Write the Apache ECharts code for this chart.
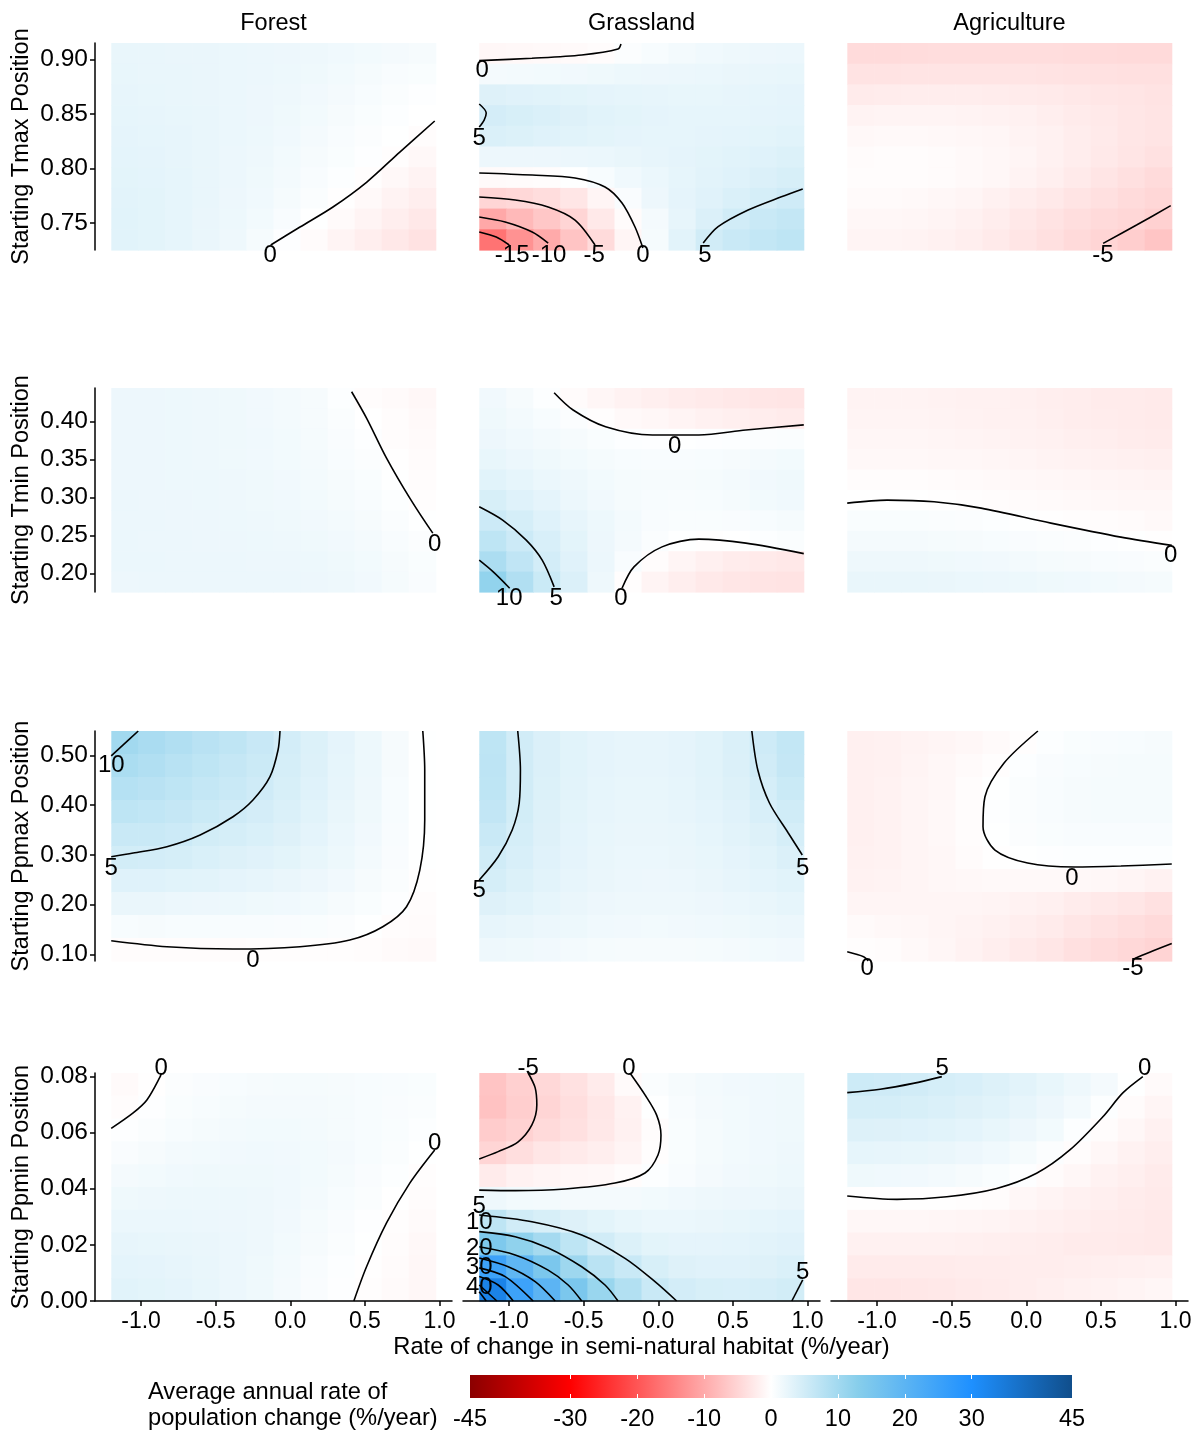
<!DOCTYPE html>
<html><head><meta charset="utf-8">
<script src="https://cdn.jsdelivr.net/npm/echarts@6/dist/echarts.min.js"></script>
<style>html,body{margin:0;padding:0;background:#fff}#c{width:1201px;height:1432px}</style>
</head><body><div id="c"></div>
<script>
// ---------- labels ----------
const facets = ['Forest', 'Grassland', 'Agriculture'];
const rowTitles = ['Starting Tmax Position', 'Starting Tmin Position', 'Starting Ppmax Position', 'Starting Ppmin Position'];
const xTitle = 'Rate of change in semi-natural habitat (%/year)';
const legendTitle = 'Average annual rate of\npopulation change (%/year)';

// ---------- ticks ----------
const xTicks = [-1.0, -0.5, 0.0, 0.5, 1.0];
const yTicksTmax = [0.75, 0.80, 0.85, 0.90];
const yTicksTmin = [0.20, 0.25, 0.30, 0.35, 0.40];
const yTicksPpmax = [0.10, 0.20, 0.30, 0.40, 0.50];
const yTicksPpmin = [0.00, 0.02, 0.04, 0.06, 0.08];
const legendTicks = [-45, -30, -20, -10, 0, 10, 20, 30, 45];

// ---------- raster cell centres ----------
const xCells = [-1.109, -0.928, -0.747, -0.566, -0.384, -0.203, -0.022, 0.159, 0.341, 0.522, 0.703, 0.884];
const yCellsTmax = [0.7345, 0.7535, 0.7725, 0.7915, 0.8105, 0.8295, 0.8485, 0.8675, 0.8865, 0.9055];
const yCellsTmin = [0.1894, 0.2162, 0.2430, 0.2698, 0.2966, 0.3234, 0.3502, 0.3770, 0.4038, 0.4306];
const yCellsPpmax = [0.1101, 0.1563, 0.2025, 0.2487, 0.2949, 0.3411, 0.3873, 0.4335, 0.4797, 0.5259];
const yCellsPpmin = [0.00406, 0.01218, 0.0203, 0.02842, 0.03654, 0.04466, 0.05278, 0.0609, 0.06902, 0.07714];

// ---------- raster values (rows listed top to bottom) ----------
const zForestTmax = [
[2.4,2.4,2.3,2.3,2.2,2.1,2.0,1.8,1.6,1.4,1.2,1.0],
[2.5,2.4,2.4,2.3,2.2,2.1,1.9,1.7,1.4,1.1,0.8,0.6],
[2.6,2.5,2.4,2.3,2.2,2.0,1.8,1.5,1.2,0.9,0.5,0.2],
[2.7,2.6,2.5,2.4,2.2,2.0,1.7,1.4,1.0,0.6,0.3,0.0],
[2.8,2.7,2.6,2.4,2.2,1.9,1.6,1.2,0.8,0.4,0.1,-0.3],
[2.9,2.8,2.6,2.4,2.1,1.8,1.4,1.0,0.6,0.2,-0.2,-0.8],
[3.0,2.9,2.7,2.4,2.1,1.7,1.3,0.8,0.3,-0.2,-0.8,-1.4],
[3.1,3.0,2.7,2.4,2.0,1.6,1.1,0.5,-0.1,-0.7,-1.4,-2.0],
[3.2,3.0,2.7,2.3,1.9,1.4,0.8,0.1,-0.6,-1.3,-2.0,-2.7],
[3.3,3.0,2.7,2.3,1.8,1.1,0.2,-0.5,-1.3,-2.0,-2.7,-3.4]];
const zGrassTmax = [
[-0.9,-0.8,-0.7,-0.6,-0.3,0.4,0.9,1.3,1.6,1.8,2.0,2.1],
[1.2,1.3,1.4,1.5,1.7,1.9,2.0,2.1,2.2,2.3,2.4,2.5],
[3.6,3.4,3.2,3.0,2.8,2.7,2.6,2.5,2.5,2.6,2.7,2.8],
[4.7,4.3,4.0,3.6,3.3,3.0,2.8,2.7,2.7,2.7,2.8,2.9],
[4.0,3.8,3.5,3.2,3.0,2.8,2.7,2.7,2.8,2.9,3.0,3.2],
[2.0,2.0,2.0,2.1,2.2,2.4,2.6,2.8,3.0,3.2,3.5,3.8],
[-0.6,-0.5,-0.3,0.1,0.9,1.6,2.2,2.7,3.1,3.5,3.9,4.3],
[-5.0,-4.6,-4.0,-3.0,-1.2,0.7,2.0,2.8,3.4,4.0,4.6,5.2],
[-10.2,-8.2,-6.6,-5.0,-2.6,-0.5,1.2,2.6,3.9,5.0,5.8,6.4],
[-16.5,-12.8,-10.0,-7.0,-4.2,-1.2,1.1,3.1,5.0,5.8,6.5,7.0]];
const zAgriTmax = [
[-4.2,-4.2,-4.1,-4.0,-4.0,-4.0,-4.0,-4.0,-4.1,-4.2,-4.3,-4.4],
[-3.3,-3.3,-3.2,-3.2,-3.2,-3.2,-3.2,-3.3,-3.4,-3.5,-3.6,-3.7],
[-2.3,-2.2,-2.1,-2.1,-2.1,-2.2,-2.3,-2.5,-2.7,-2.9,-3.1,-3.3],
[-1.4,-1.3,-1.3,-1.3,-1.4,-1.5,-1.7,-2.0,-2.3,-2.6,-2.9,-3.2],
[-0.8,-0.7,-0.7,-0.8,-0.9,-1.1,-1.4,-1.7,-2.1,-2.5,-2.9,-3.2],
[-0.5,-0.4,-0.4,-0.5,-0.7,-0.9,-1.2,-1.6,-2.1,-2.6,-3.1,-3.5],
[-0.4,-0.3,-0.4,-0.5,-0.7,-1.0,-1.4,-1.9,-2.5,-3.1,-3.7,-4.2],
[-0.6,-0.6,-0.7,-0.9,-1.2,-1.6,-2.1,-2.6,-3.2,-3.7,-4.2,-4.7],
[-1.0,-1.0,-1.1,-1.3,-1.6,-2.1,-2.7,-3.3,-3.9,-4.3,-4.7,-5.4],
[-1.3,-1.3,-1.4,-1.6,-2.0,-2.5,-3.1,-3.7,-4.3,-4.9,-5.8,-6.8]];
const zForestTmin = [
[2.0,2.0,1.9,1.8,1.7,1.5,1.3,1.0,0.3,-0.3,-0.6,-0.9],
[2.0,2.0,1.9,1.8,1.7,1.5,1.3,1.0,0.5,0.0,-0.4,-0.7],
[2.0,2.0,1.9,1.8,1.7,1.6,1.4,1.1,0.7,0.2,-0.3,-0.6],
[2.0,2.0,1.9,1.8,1.7,1.6,1.4,1.2,0.8,0.4,-0.1,-0.5],
[2.0,2.0,1.9,1.9,1.8,1.7,1.5,1.3,1.0,0.6,0.1,-0.3],
[2.1,2.0,2.0,1.9,1.8,1.7,1.6,1.4,1.1,0.8,0.3,-0.2],
[2.1,2.1,2.0,2.0,1.9,1.8,1.7,1.5,1.3,1.0,0.5,0.1],
[2.2,2.1,2.1,2.0,2.0,1.9,1.8,1.7,1.5,1.2,0.8,0.4],
[2.2,2.2,2.1,2.1,2.1,2.0,2.0,1.9,1.7,1.4,1.0,0.6],
[2.0,2.1,2.1,2.1,2.1,2.1,2.1,2.0,1.8,1.5,1.1,0.7]];
const zGrassTmin = [
[1.5,1.0,0.3,-0.5,-1.1,-1.5,-1.9,-2.2,-2.5,-2.7,-2.9,-3.1],
[1.7,1.3,0.9,0.4,-0.2,-0.7,-1.0,-1.3,-1.6,-1.9,-2.1,-2.3],
[2.0,1.6,1.3,1.0,0.6,0.3,0.2,0.1,0.2,0.3,0.4,0.5],
[2.5,2.1,1.7,1.4,1.1,0.9,0.8,0.8,0.9,1.0,1.2,1.4],
[3.2,2.7,2.2,1.8,1.4,1.1,1.0,1.0,1.1,1.3,1.5,1.7],
[4.3,3.5,2.8,2.1,1.5,1.1,0.9,0.8,0.9,1.1,1.4,1.6],
[5.5,4.5,3.5,2.6,1.9,1.3,0.8,0.6,0.6,0.7,0.9,1.1],
[7.0,5.5,4.2,3.0,2.0,1.2,0.5,0.1,-0.1,0.0,0.3,0.5],
[9.0,6.8,4.8,3.4,2.1,0.8,-0.4,-1.2,-1.8,-2.2,-2.5,-2.7],
[11.8,8.4,5.7,3.9,1.8,-0.2,-1.3,-2.0,-2.6,-3.0,-3.2,-3.3]];
const zAgriTmin = [
[-1.4,-1.4,-1.4,-1.5,-1.6,-1.7,-1.8,-2.0,-2.1,-2.3,-2.4,-2.5],
[-1.3,-1.3,-1.3,-1.4,-1.5,-1.6,-1.7,-1.9,-2.1,-2.2,-2.4,-2.5],
[-1.1,-1.1,-1.1,-1.2,-1.3,-1.4,-1.5,-1.7,-1.9,-2.0,-2.2,-2.3],
[-0.8,-0.8,-0.8,-0.9,-1.0,-1.1,-1.2,-1.4,-1.5,-1.7,-1.8,-1.9],
[-0.4,-0.4,-0.4,-0.5,-0.6,-0.7,-0.8,-1.0,-1.1,-1.2,-1.3,-1.4],
[0.0,0.0,0.0,-0.1,-0.2,-0.3,-0.5,-0.6,-0.7,-0.8,-0.9,-1.0],
[0.6,0.6,0.6,0.5,0.4,0.3,0.1,-0.1,-0.2,-0.4,-0.5,-0.7],
[1.2,1.2,1.2,1.1,1.0,0.9,0.7,0.5,0.4,0.2,0.1,-0.1],
[1.8,1.8,1.8,1.7,1.6,1.5,1.3,1.1,1.0,0.8,0.7,0.5],
[2.4,2.4,2.4,2.3,2.2,2.1,1.9,1.7,1.6,1.4,1.2,1.1]];
const zForestPpmax = [
[10.1,9.2,8.4,7.6,6.9,6.0,4.8,3.8,2.8,1.9,1.0,0.1],
[9.1,8.4,7.7,7.0,6.3,5.6,4.6,3.7,2.7,1.9,1.0,0.1],
[8.0,7.6,7.0,6.4,5.8,5.2,4.3,3.5,2.6,1.8,0.9,0.1],
[7.0,6.7,6.3,5.7,5.2,4.7,4.0,3.2,2.4,1.7,0.9,0.1],
[5.9,5.8,5.5,4.9,4.5,4.1,3.6,2.9,2.2,1.5,0.8,0.1],
[4.9,4.8,4.5,4.1,3.7,3.4,3.0,2.5,1.9,1.3,0.7,0.1],
[3.5,3.5,3.3,3.1,2.8,2.6,2.3,2.0,1.5,1.0,0.5,-0.1],
[2.3,2.3,2.1,2.0,1.9,1.7,1.6,1.4,1.0,0.6,0.2,-0.3],
[0.9,1.0,0.9,0.9,0.8,0.8,0.7,0.6,0.4,0.1,-0.3,-0.5],
[-0.4,-0.3,-0.3,-0.3,-0.3,-0.2,-0.2,-0.2,-0.2,-0.4,-0.6,-0.7]];
const zGrassPpmax = [
[7.0,5.0,3.9,3.2,2.8,2.6,2.6,2.8,3.2,4.0,5.3,6.5],
[7.2,5.0,3.9,3.2,2.8,2.6,2.6,2.8,3.2,3.9,5.0,6.3],
[7.0,5.0,3.8,3.1,2.7,2.5,2.5,2.7,3.1,3.7,4.6,5.7],
[6.6,4.9,3.7,3.0,2.6,2.4,2.4,2.6,2.9,3.4,4.2,5.1],
[5.8,4.6,3.6,2.9,2.5,2.3,2.3,2.4,2.7,3.1,3.7,4.5],
[5.1,4.2,3.4,2.8,2.4,2.2,2.2,2.3,2.5,2.8,3.3,3.9],
[4.5,3.8,3.1,2.6,2.3,2.1,2.0,2.1,2.3,2.6,2.9,3.3],
[3.6,3.2,2.7,2.3,2.0,1.8,1.8,1.8,2.0,2.2,2.4,2.7],
[2.6,2.4,2.1,1.9,1.6,1.5,1.4,1.5,1.6,1.7,1.9,2.1],
[1.8,1.7,1.5,1.3,1.1,1.0,1.0,1.0,1.1,1.2,1.4,1.5]];
const zAgriPpmax = [
[-1.8,-1.6,-1.4,-1.2,-0.9,-0.6,-0.2,0.3,0.6,0.8,0.9,1.0],
[-1.8,-1.6,-1.3,-1.0,-0.6,-0.2,0.3,0.7,0.9,1.0,1.1,1.1],
[-1.8,-1.5,-1.2,-0.9,-0.4,0.1,0.5,0.8,1.0,1.1,1.1,1.1],
[-1.8,-1.5,-1.2,-0.8,-0.3,0.2,0.5,0.8,1.0,1.1,1.1,1.1],
[-1.8,-1.5,-1.2,-0.8,-0.4,0.1,0.4,0.6,0.8,0.8,0.8,0.8],
[-1.7,-1.5,-1.2,-0.9,-0.5,-0.1,0.1,0.2,0.3,0.3,0.3,0.3],
[-1.5,-1.4,-1.2,-1.0,-0.8,-0.7,-0.7,-0.7,-0.8,-1.0,-1.2,-1.5],
[-1.2,-1.2,-1.2,-1.2,-1.2,-1.3,-1.5,-1.8,-2.2,-2.6,-3.0,-3.5],
[-0.6,-0.8,-1.0,-1.2,-1.4,-1.7,-2.0,-2.4,-2.9,-3.4,-3.9,-4.4],
[-0.2,-0.3,-0.7,-1.1,-1.5,-2.0,-2.5,-3.0,-3.6,-4.1,-4.6,-5.1]];
const zForestPpmin = [
[-0.6,-0.1,0.4,0.7,0.9,1.0,1.1,1.1,1.0,0.9,0.8,0.6],
[-0.3,0.2,0.6,0.9,1.1,1.2,1.2,1.2,1.1,0.9,0.7,0.5],
[0.2,0.5,0.9,1.1,1.3,1.4,1.4,1.3,1.1,0.9,0.6,0.3],
[0.7,1.0,1.3,1.4,1.5,1.6,1.5,1.4,1.2,0.9,0.5,0.1],
[1.2,1.4,1.6,1.7,1.7,1.7,1.6,1.4,1.1,0.7,0.3,-0.2],
[1.7,1.8,1.9,1.9,1.9,1.8,1.6,1.3,0.9,0.5,0.0,-0.4],
[2.2,2.2,2.2,2.1,2.0,1.8,1.5,1.1,0.7,0.2,-0.2,-0.6],
[2.6,2.5,2.4,2.3,2.1,1.8,1.4,1.0,0.5,0.1,-0.4,-0.8],
[2.9,2.8,2.6,2.4,2.1,1.7,1.3,0.8,0.3,-0.1,-0.5,-0.9],
[3.2,3.0,2.8,2.5,2.1,1.7,1.2,0.7,0.2,-0.2,-0.6,-1.0]];
const zGrassPpmin = [
[-7.0,-5.5,-4.6,-3.5,-2.3,-0.6,0.5,1.0,1.3,1.5,1.6,1.7],
[-7.2,-5.8,-4.9,-3.9,-2.8,-1.5,0.1,0.8,1.2,1.4,1.6,1.7],
[-6.0,-5.3,-4.4,-3.6,-2.7,-1.6,-0.4,0.6,1.1,1.4,1.6,1.7],
[-5.0,-3.9,-3.0,-2.5,-2.0,-1.3,-0.2,0.6,1.1,1.4,1.6,1.8],
[-2.4,-1.5,-1.2,-1.0,-0.8,-0.3,0.3,0.8,1.2,1.5,1.7,1.9],
[1.8,1.4,1.3,1.2,1.2,1.2,1.4,1.6,1.8,2.0,2.1,2.3],
[7.0,5.0,4.3,3.6,3.0,2.5,2.2,2.2,2.3,2.5,2.7,2.9],
[14.5,12.0,9.8,7.0,5.0,3.8,3.0,2.8,2.8,2.9,3.1,3.4],
[25.0,19.5,15.0,10.5,7.5,5.8,4.3,3.6,3.4,3.4,3.6,4.0],
[33.0,25.0,20.0,15.0,11.0,8.3,5.8,4.8,4.3,4.2,4.4,4.9]];
const zAgriPpmin = [
[5.4,5.2,5.0,4.6,4.2,3.7,3.1,2.5,1.8,1.2,0.1,-0.6],
[4.6,4.5,4.3,4.0,3.6,3.2,2.6,2.0,1.3,0.3,-0.5,-1.2],
[3.7,3.6,3.5,3.2,2.9,2.5,2.0,1.4,0.3,-0.4,-1.0,-1.6],
[2.7,2.6,2.5,2.3,2.0,1.6,1.1,0.4,-0.3,-1.0,-1.5,-2.0],
[1.7,1.6,1.5,1.3,1.0,0.6,0.2,-0.5,-1.0,-1.5,-1.9,-2.3],
[-0.1,-0.1,-0.1,-0.1,-0.2,-0.4,-0.9,-1.3,-1.6,-1.9,-2.2,-2.5],
[-1.0,-1.0,-1.0,-1.1,-1.2,-1.3,-1.5,-1.8,-2.0,-2.2,-2.4,-2.6],
[-1.7,-1.7,-1.7,-1.7,-1.8,-1.9,-2.0,-2.1,-2.3,-2.4,-2.5,-2.6],
[-2.4,-2.4,-2.3,-2.3,-2.2,-2.2,-2.1,-2.1,-2.0,-1.9,-1.8,-1.7],
[-3.0,-2.9,-2.8,-2.7,-2.5,-2.3,-2.1,-1.9,-1.7,-1.5,-1.3,-1.1]];

// ---------- contour lines [x, y] ----------
const cForestTmax = [
[[-0.131,0.7296],[0.065,0.7461],[0.286,0.7645],[0.513,0.7874],[0.734,0.8149],[0.968,0.8434]]];
const cGrassTmax = [
[[-1.2,0.8988],[-0.847,0.901],[-0.513,0.904],[-0.27,0.9095],[-0.25,0.9141]],
[[-1.2,0.859],[-1.153,0.8507],[-1.167,0.8443],[-1.2,0.8379]],
[[-1.2,0.7957],[-0.845,0.7938],[-0.558,0.7911],[-0.357,0.7828],[-0.243,0.7681],[-0.156,0.7461],[-0.103,0.7268]],
[[-1.2,0.7736],[-0.959,0.7709],[-0.738,0.7645],[-0.558,0.7525],[-0.424,0.7296]],
[[-1.2,0.7553],[-1.026,0.7507],[-0.845,0.7415],[-0.738,0.7314]],
[[-1.2,0.7415],[-1.086,0.7369],[-0.999,0.7296]],
[[0.301,0.7314],[0.401,0.7464],[0.602,0.7617],[0.825,0.7738],[0.968,0.781]]];
const cAgriTmax = [
[[0.515,0.7311],[0.739,0.7479],[0.968,0.7657]]];
const cForestTmin = [
[[0.411,0.4391],[0.511,0.4045],[0.645,0.3519],[0.801,0.2993],[0.955,0.2533]]];
const cGrassTmin = [
[[-0.698,0.4378],[-0.571,0.4151],[-0.353,0.3931],[-0.039,0.3822],[0.272,0.3822],[0.587,0.3888],[0.975,0.3956]],
[[-1.2,0.2879],[-1.043,0.2704],[-0.885,0.2441],[-0.778,0.2178],[-0.698,0.1827]],
[[-1.2,0.2178],[-1.106,0.2024],[-0.996,0.181]],
[[-0.243,0.181],[-0.163,0.209],[0.025,0.2353],[0.272,0.2454],[0.587,0.2402],[0.975,0.2264]]];
const cAgriTmin = [
[[-1.2,0.2928],[-0.932,0.2967],[-0.618,0.2945],[-0.303,0.2862],[0.165,0.2665],[0.634,0.2481],[0.975,0.2372]]];
const cForestPpmax = [
[[-1.2,0.499],[-1.12,0.521],[-1.019,0.549]],
[[-1.2,0.2965],[-1.053,0.3039],[-0.827,0.3166],[-0.604,0.3401],[-0.384,0.3768],[-0.25,0.4104],[-0.136,0.4572],[-0.082,0.5108],[-0.069,0.549]],
[[-1.2,0.1277],[-0.827,0.1157],[-0.384,0.111],[0.065,0.1157],[0.399,0.1291],[0.62,0.1558],[0.779,0.196],[0.868,0.2697],[0.901,0.3702],[0.901,0.4706],[0.888,0.549]]];
const cGrassPpmax = [
[[-0.942,0.549],[-0.924,0.4706],[-0.932,0.4044],[-0.979,0.3501],[-1.073,0.2965],[-1.2,0.2497]],
[[0.627,0.549],[0.667,0.4706],[0.745,0.4044],[0.871,0.3441],[0.965,0.2999]]];
const cAgriPpmax = [
[[0.078,0.549],[-0.149,0.4847],[-0.277,0.417],[-0.29,0.3567],[-0.21,0.3099],[0.009,0.2838],[0.322,0.2758],[0.634,0.2778],[0.975,0.2818]],
[[-1.2,0.1056],[-1.09,0.0956],[-1.059,0.0869]],
[[0.714,0.0869],[0.73,0.0924],[0.975,0.1221]]];
const cForestPpmin = [
[[-1.2,0.0615],[-1.053,0.067],[-0.961,0.0716],[-0.872,0.0799],[-0.865,0.0812]],
[[0.426,0.0],[0.511,0.0122],[0.645,0.0278],[0.801,0.042],[0.968,0.0538]]];
const cGrassPpmin = [
[[-0.872,0.0812],[-0.825,0.0759],[-0.814,0.0698],[-0.847,0.0627],[-0.939,0.0567],[-1.073,0.0532],[-1.2,0.0506]],
[[-0.19,0.0812],[-0.089,0.0734],[-0.011,0.0662],[0.018,0.0591],[-0.002,0.052],[-0.089,0.0456],[-0.29,0.042],[-0.624,0.0399],[-0.959,0.0393],[-1.2,0.0395]],
[[-1.2,0.0306],[-0.847,0.0282],[-0.513,0.0235],[-0.223,0.0152],[-0.022,0.0069],[0.123,0.0]],
[[-1.2,0.0247],[-0.959,0.0229],[-0.738,0.0189],[-0.513,0.0122],[-0.357,0.0057],[-0.27,0.0]],
[[-1.2,0.0193],[-0.959,0.0164],[-0.738,0.011],[-0.604,0.0057],[-0.513,0.0]],
[[-1.2,0.0153],[-1.006,0.0122],[-0.825,0.0069],[-0.691,0.0]],
[[-1.2,0.0118],[-1.026,0.0087],[-0.839,0.0]],
[[-1.2,0.0087],[-1.073,0.0057],[-0.972,0.0]],
[[-1.2,0.0057],[-1.082,0.0]],
[[-1.2,0.0033],[-1.153,0.0]],
[[0.968,0.0075],[0.895,0.0]]];
const cAgriPpmin = [
[[-1.2,0.0742],[-0.979,0.0754],[-0.758,0.0775],[-0.566,0.0799]],
[[-1.2,0.0374],[-0.867,0.0362],[-0.533,0.0371],[-0.198,0.0401],[0.069,0.0455],[0.292,0.0538],[0.513,0.0656],[0.647,0.0741],[0.781,0.0799]]];

// ---------- contour labels [x, y, level] ----------
const lForestTmax = [[-0.135,0.7204,0]];
const lGrassTmax = [[-1.18,0.8902,0],[-1.2,0.8278,5],[-0.103,0.7204,0],[-0.43,0.7204,-5],[-0.732,0.7204,-10],[-0.979,0.7204,-15],[0.313,0.7204,5]];
const lAgriTmax = [[0.513,0.7204,-5]];
const lForestTmin = [[0.968,0.2389,0]];
const lGrassTmin = [[0.109,0.3668,0],[-0.685,0.1679,5],[-0.999,0.1679,10],[-0.25,0.1679,0]];
const lAgriTmin = [[0.968,0.2244,0]];
const lForestPpmax = [[-1.2,0.4807,10],[-1.2,0.2738,5],[-0.25,0.089,0]];
const lGrassPpmax = [[-1.2,0.2296,5],[0.968,0.2738,5]];
const lAgriPpmax = [[0.306,0.2537,0],[-1.066,0.0729,0],[0.714,0.0729,-5]];
const lForestPpmin = [[-0.865,0.083,0],[0.968,0.0563,0]];
const lGrassPpmin = [[-0.872,0.083,-5],[-0.196,0.083,0],[-1.2,0.0338,5],[-1.2,0.0281,10],[-1.2,0.0189,20],[-1.2,0.0118,30],[-1.2,0.0047,40],[0.968,0.0103,5]];
const lAgriPpmin = [[-0.564,0.083,5],[0.794,0.083,0]];

// ---------- colour scale ----------
const colourStops = [[-45,[139,0,0]],[-30,[255,0,0]],[0,[255,255,255]],[13,[135,206,235]],[30,[30,144,255]],[45,[16,78,139]]];

// ================= build =================
const FONT = '"Liberation Sans", Arial, sans-serif';
const colLeft = [95, 463, 831], panelW = 357;
const rowTop = [43, 388, 731, 1073], rowH = [207, 204, 230, 228];
const xMin = -1.30875, xMax = 1.08375;
const yRange = [[0.725,0.915],[0.176,0.444],[0.087,0.549],[0,0.0812]];
const yCellsByRow = [yCellsTmax, yCellsTmin, yCellsPpmax, yCellsPpmin];
const yTicksByRow = [yTicksTmax, yTicksTmin, yTicksPpmax, yTicksPpmin];
const zByPanel = [[zForestTmax,zGrassTmax,zAgriTmax],[zForestTmin,zGrassTmin,zAgriTmin],[zForestPpmax,zGrassPpmax,zAgriPpmax],[zForestPpmin,zGrassPpmin,zAgriPpmin]];
const cByPanel = [[cForestTmax,cGrassTmax,cAgriTmax],[cForestTmin,cGrassTmin,cAgriTmin],[cForestPpmax,cGrassPpmax,cAgriPpmax],[cForestPpmin,cGrassPpmin,cAgriPpmin]];
const lByPanel = [[lForestTmax,lGrassTmax,lAgriTmax],[lForestTmin,lGrassTmin,lAgriTmin],[lForestPpmax,lGrassPpmax,lAgriPpmax],[lForestPpmin,lGrassPpmin,lAgriPpmin]];

function rgbAt(v){
  v = Math.max(colourStops[0][0], Math.min(colourStops[colourStops.length-1][0], v));
  for (let i = 0; i < colourStops.length-1; i++){
    const a = colourStops[i][0], ca = colourStops[i][1], b = colourStops[i+1][0], cb = colourStops[i+1][1];
    if (v <= b){ const t = (v-a)/(b-a); return 'rgb(' + ca.map((c,k)=>Math.round(c+(cb[k]-c)*t)).join(',') + ')'; }
  }
  return 'rgb(16,78,139)';
}

const axisCol = {color:'#000', width:1.5};
const grids = [], xAxes = [], yAxes = [], series = [];
for (let r = 0; r < 4; r++){
  for (let c = 0; c < 3; c++){
    const i = r*3 + c;
    grids.push({left: colLeft[c], top: rowTop[r], width: panelW, height: rowH[r], containLabel:false, outerBoundsMode:'none'});
    const bottom = (r === 3);
    xAxes.push({type:'value', gridIndex:i, min:xMin, max:xMax, show:bottom, z:5,
      axisLine:{show:true, onZero:false, lineStyle:axisCol},
      axisTick:{show:true, length:5, lineStyle:axisCol, customValues:xTicks},
      axisLabel:{show:true, customValues:xTicks, formatter:v=>v.toFixed(1), color:'#000', fontSize:23, fontFamily:FONT, margin:9},
      splitLine:{show:false},
      name:(bottom && c===1) ? xTitle : '', nameLocation:'middle', nameGap:34,
      nameTextStyle:{color:'#000', fontSize:23.7, fontFamily:FONT}});
    yAxes.push({type:'value', gridIndex:i, min:yRange[r][0], max:yRange[r][1], show:(c===0), z:5,
      axisLine:{show:true, onZero:false, lineStyle:axisCol},
      axisTick:{show:true, length:5, lineStyle:axisCol, customValues:yTicksByRow[r]},
      axisLabel:{show:true, customValues:yTicksByRow[r], formatter:v=>v.toFixed(2), color:'#000', fontSize:24.5, fontFamily:FONT, margin:7},
      splitLine:{show:false},
      name:(c===0) ? rowTitles[r] : '', nameLocation:'middle', nameGap:61,
      nameTextStyle:{color:'#000', fontSize:23.5, fontFamily:FONT}});

    // raster cells
    const yc = yCellsByRow[r];
    const cw = xCells[1]-xCells[0], ch = yc[1]-yc[0];
    const z = zByPanel[r][c];
    const cells = [];
    for (let j = 0; j < z.length; j++){
      for (let k = 0; k < xCells.length; k++){
        cells.push([xCells[k], yc[yc.length-1-j], z[j][k]]);
      }
    }
    series.push({type:'custom', coordinateSystem:'cartesian2d', xAxisIndex:i, yAxisIndex:i, z:1, silent:true, animation:false,
      data:cells,
      renderItem:(params, api)=>{
        const x = api.value(0), y = api.value(1), v = api.value(2);
        const a = api.coord([x-cw/2, y+ch/2]), b = api.coord([x+cw/2, y-ch/2]);
        return {type:'rect', shape:{x:a[0], y:a[1], width:b[0]-a[0]+0.6, height:b[1]-a[1]+0.6}, style:{fill:rgbAt(v)}};
      }});
    // contour lines
    cByPanel[r][c].forEach(pts=>{
      series.push({type:'line', xAxisIndex:i, yAxisIndex:i, data:pts, smooth:0.3, symbol:'none', showSymbol:false,
        lineStyle:{color:'#000', width:1.6}, z:3, silent:true, animation:false});
    });
    // contour labels
    series.push({type:'scatter', xAxisIndex:i, yAxisIndex:i, data:lByPanel[r][c], symbolSize:1, clip:false,
      itemStyle:{color:'rgba(0,0,0,0)'}, z:4, silent:true, animation:false,
      label:{show:true, position:'inside', formatter:p=>String(p.value[2]), color:'#000', fontSize:24, fontFamily:FONT,
        textBorderWidth:0, textBorderColor:'transparent', opacity:1}});
  }
}

// legend colour bar
grids.push({left:470, top:1375, width:602, height:23, containLabel:false, outerBoundsMode:'none'});
const lgMin = legendTicks[0], lgMax = legendTicks[legendTicks.length-1];
xAxes.push({type:'value', gridIndex:12, min:lgMin, max:lgMax, z:5,
  axisLine:{show:false}, splitLine:{show:false},
  axisTick:{show:true, inside:true, length:4, lineStyle:{color:'#fff', width:1}, customValues:legendTicks.slice(1,-1)},
  axisLabel:{show:true, customValues:legendTicks, color:'#000', fontSize:23.5, fontFamily:FONT, margin:10}});
xAxes.push({type:'value', gridIndex:12, position:'top', min:lgMin, max:lgMax, z:5,
  axisLine:{show:false}, splitLine:{show:false}, axisLabel:{show:false},
  axisTick:{show:true, inside:true, length:4, lineStyle:{color:'#fff', width:1}, customValues:legendTicks.slice(1,-1)}});
yAxes.push({type:'value', gridIndex:12, min:0, max:1, show:false});
const gradStops = colourStops.map(s=>({offset:(s[0]-lgMin)/(lgMax-lgMin), color:'rgb('+s[1].join(',')+')'}));
series.push({type:'custom', coordinateSystem:'cartesian2d', xAxisIndex:12, yAxisIndex:12, z:1, silent:true, animation:false,
  data:[[lgMin, 0, lgMax, 1]],
  renderItem:(params, api)=>{
    const a = api.coord([api.value(0), api.value(3)]), b = api.coord([api.value(2), api.value(1)]);
    return {type:'rect', shape:{x:a[0], y:a[1], width:b[0]-a[0], height:b[1]-a[1]},
      style:{fill:new echarts.graphic.LinearGradient(0,0,1,0,gradStops)}};
  }});

const graphics = facets.map((f, c)=>({type:'text', x: colLeft[c]+panelW/2, y:24,
  style:{text:f, fill:'#000', font:'23.5px ' + FONT, align:'center', verticalAlign:'middle', textAlign:'center', textVerticalAlign:'middle'}}));
graphics.push({type:'text', x:148, y:1379,
  style:{text:legendTitle, fill:'#000', font:'23.7px ' + FONT, lineHeight:26, align:'left', verticalAlign:'top', textAlign:'left', textVerticalAlign:'top'}});

const chart = echarts.init(document.getElementById('c'), null, {renderer:'canvas', width:1201, height:1432});
chart.setOption({
  backgroundColor:'#fff',
  animation:false,
  grid:grids, xAxis:xAxes, yAxis:yAxes, series:series, graphic:graphics
});
</script></body></html>
